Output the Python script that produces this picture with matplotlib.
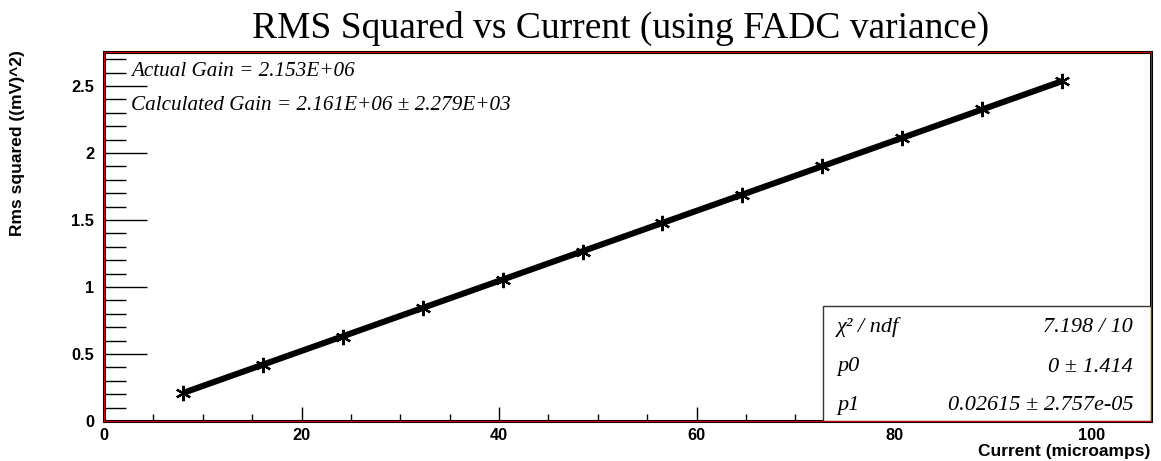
import matplotlib
matplotlib.use("Agg")
import matplotlib.pyplot as plt
from matplotlib.patches import Rectangle
from matplotlib.ticker import MultipleLocator

# Measured points: beam current (microamps) vs RMS squared ((mV)^2)
current = [8.0, 16.1, 24.2, 32.3, 40.4, 48.5, 56.5, 64.6, 72.7, 80.8, 88.9, 97.0]
rms_sq = [0.21, 0.42, 0.63, 0.845, 1.055, 1.265, 1.48, 1.69, 1.90, 2.115, 2.325, 2.535]

# Linear fit result
fit_p0 = 0.0
fit_p1 = 0.02615

title = "RMS Squared vs Current (using FADC variance)"
xlabel = "Current (microamps)"
ylabel = "Rms squared ((mV)^2)"
info_lines = ["Actual Gain = 2.153E+06",
              "Calculated Gain = 2.161E+06 \u00b1 2.279E+03"]
stat_names = ["\u03c7\u00b2 / ndf", "p0", "p1"]
stat_values = ["7.198 / 10", "0 \u00b1 1.414", "0.02615 \u00b1 2.757e-05"]
xticks = [0, 20, 40, 60, 80, 100]
yticks = [0, 0.5, 1, 1.5, 2, 2.5]

serif = "Liberation Serif"
sans = "Liberation Sans"

W, H = 1161, 461
fig = plt.figure(figsize=(W / 100, H / 100), dpi=100)
ax = fig.add_axes([104 / W, 40 / H, 1047 / W, 369 / H])

# fit line across the measured range
xf = [current[0], current[-1]]
yf = [fit_p0 + fit_p1 * x for x in xf]
ax.plot(xf, yf, color="black", lw=4.4, solid_capstyle="butt", zorder=2)
ax.plot(current, rms_sq, ls="none", marker=(6, 2, 0), ms=11, mew=1.6,
        color="black", zorder=3)

ax.set_xlim(0, 106)
ax.set_ylim(0, 2.754)

ax.xaxis.set_minor_locator(MultipleLocator(5))
ax.yaxis.set_minor_locator(MultipleLocator(0.1))
ax.tick_params(axis="x", which="major", direction="in", length=10, width=1,
               top=False, pad=5)
ax.tick_params(axis="x", which="minor", direction="in", length=5, width=1,
               top=False)
ax.tick_params(axis="y", which="major", direction="in", length=31, width=1,
               right=False, pad=7)
ax.tick_params(axis="y", which="minor", direction="in", length=16, width=1,
               right=False)

ax.set_xticks(xticks)
ax.set_xticklabels([f"{v:g}" for v in xticks])
ax.set_yticks(yticks)
ax.set_yticklabels([f"{v:g}" for v in yticks])
for lab in ax.get_xticklabels() + ax.get_yticklabels():
    lab.set_fontfamily(sans)
    lab.set_fontweight("bold")
    lab.set_fontsize(11.8)

for s in ax.spines.values():
    s.set_color("black")
    s.set_linewidth(2.2)
ax.add_patch(Rectangle((0, 0), 1, 1, transform=ax.transAxes, fill=False,
                       edgecolor="#d40000", lw=0.8, clip_on=False, zorder=5))

fig.text(621 / W, 1 - 28 / H, title, ha="center", va="center", family=serif,
         fontsize=27)
fig.text(1150 / W, 1 - 451 / H, xlabel, ha="right", va="center",
         family=sans, fontweight="bold", fontsize=12.5)
fig.text(18 / W, 1 - 50 / H, ylabel, ha="center", va="top", rotation=90,
         family=sans, fontweight="bold", fontsize=12.5)

for i, line in enumerate(info_lines):
    fig.text(131 / W, 1 - (72 + 33 * i) / H, line, ha="left",
             va="center", family=serif, style="italic", fontsize=15.2)

# statistics box in the lower right corner
box_left = (823 - 104) / 1047
box_top = (421 - 306) / 369
ax.add_patch(Rectangle((box_left, 0), 1 - box_left, box_top,
                       transform=ax.transAxes, facecolor="white",
                       edgecolor="#333333", lw=1.0, zorder=4))
rows_y = [327, 367, 405]
for name, val, py in zip(stat_names, stat_values, rows_y):
    fig.text(837 / W, 1 - py / H, name, ha="left", va="center",
             family=serif, style="italic", fontsize=16, zorder=6)
    fig.text(1133 / W, 1 - py / H, val, ha="right", va="center",
             family=serif, style="italic", fontsize=16, zorder=6)

fig.savefig("out.png", dpi=100)
